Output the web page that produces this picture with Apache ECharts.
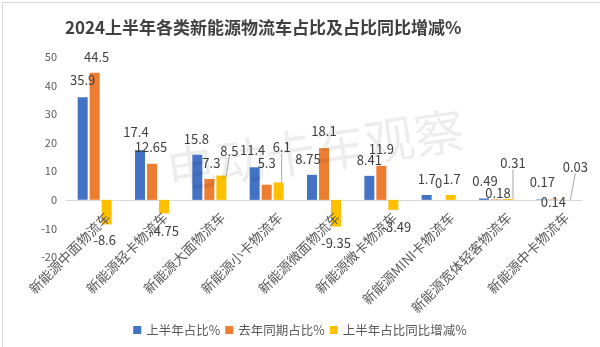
<!DOCTYPE html>
<html><head><meta charset="utf-8">
<script src="https://cdn.jsdelivr.net/npm/echarts@6/dist/echarts.min.js"></script>
<style>html,body{margin:0;padding:0;background:#fff}#c{width:600px;height:347px}</style>
</head><body><div id="c"></div>
<script>
const titleText = '2024上半年各类新能源物流车占比及占比同比增减%';
const categories = ['新能源中面物流车','新能源轻卡物流车','新能源大面物流车','新能源小卡物流车','新能源微面物流车','新能源微卡物流车','新能源MINI卡物流车','新能源宽体轻客物流车','新能源中卡物流车'];
const seriesNames = ['上半年占比%','去年同期占比%','上半年占比同比增减%'];
const share2024 = [35.9, 17.4, 15.8, 11.4, 8.75, 8.41, 1.7, 0.49, 0.17];
const share2023 = [44.5, 12.65, 7.3, 5.3, 18.1, 11.9, 0, 0.18, 0.14];
const shareChange = [-8.6, -4.75, 8.5, 6.1, -9.35, -3.49, 1.7, 0.31, 0.03];
const yTicks = [-20, -10, 0, 10, 20, 30, 40, 50];
const watermark = '电动卡车观察';

// label placement (style): [dx, dy, leaderLine]
const labelPlace = [
  [[0,-17],[-4,-18],[-1,-16],[-2,-17],[-4,-16],[0,-16],[0,-16],[1,-17],[1,-17]],
  [[2,-16],[-1,-17],[2,-16],[0,-22],[0,-17],[0,-17],[0,-17],[2,-6],[0,3]],
  [[-2,16],[0,18],[8,-25,1],[3,-35,1],[0,16],[3,17],[1,-16],[5,-36,1],[10,-33,1]]
];
const colors = ['#4472c4','#ed7d31','#ffc000'];
const values = [share2024, share2023, shareChange];

const chart = echarts.init(document.getElementById('c'));
const series = values.map((vals, si) => ({
  name: seriesNames[si],
  type: 'bar',
  data: vals.map((v, di) => ({
    value: v,
    labelLine: { show: !!labelPlace[si][di][2], lineStyle: { color: '#a6a6a6', width: 1 } }
  })),
  barWidth: 10,
  barGap: '20%',
  itemStyle: { color: colors[si] },
  label: { show: true, formatter: p => String(p.value), color: '#404040', fontSize: 13, fontFamily: 'Noto Sans CJK SC' },
  labelLayout: function (p) {
    const r = p.rect;
    const off = labelPlace[si][p.dataIndex];
    const v = vals[p.dataIndex];
    const cx = r.x + r.width / 2;
    const endY = v >= 0 ? r.y : r.y + r.height;
    return { x: cx + off[0], y: endY + off[1], align: 'center', verticalAlign: 'middle' };
  }
}));

chart.setOption({
  backgroundColor: '#fff',
  animation: false,
  title: {
    text: titleText, left: 60, top: 14,
    textStyle: { fontSize: 17, fontWeight: 'bold', color: '#404040', fontFamily: 'Noto Sans CJK SC' }
  },
  legend: {
    data: seriesNames, left: 'center', top: 318,
    itemWidth: 8, itemHeight: 8, itemGap: 5, icon: 'rect',
    textStyle: { fontSize: 12.5, lineHeight: 14, color: '#595959', fontFamily: 'Noto Sans CJK SC' }
  },
  grid: { left: 66, right: 18, top: 57, bottom: 90, containLabel: false, outerBoundsMode: 'none' },
  xAxis: {
    type: 'category', data: categories,
    axisLine: { lineStyle: { color: '#d9d9d9' } },
    axisTick: { show: false },
    axisLabel: { show: false }
  },
  yAxis: {
    type: 'value', min: yTicks[0], max: yTicks[yTicks.length - 1], interval: 10,
    splitLine: { show: false },
    axisLine: { show: false }, axisTick: { show: false },
    axisLabel: { color: '#595959', fontSize: 11, fontFamily: 'Noto Sans CJK SC', margin: 9 }
  },
  series: series
});

// category labels, rotated 45°, anchored at each category's pixel position on the zero line
const catLabels = categories.map((name, i) => {
  const pt = chart.convertToPixel({ xAxisIndex: 0, yAxisIndex: 0 }, [i, 0]);
  return {
    type: 'text', x: pt[0] + 13, y: pt[1] + 15, rotation: Math.PI / 4, z: 50,
    style: { text: name, fontSize: 13.5, fontFamily: 'Noto Sans CJK SC', fill: '#595959', align: 'right', verticalAlign: 'middle' }
  };
});
chart.setOption({
  graphic: [
    { type: 'rect', left: 0, top: 0, shape: { width: 599, height: 346 }, style: { fill: 'none', stroke: '#d9d9d9', lineWidth: 1 }, z: 100 },
    { type: 'text', x: 315, y: 150, rotation: 0.14, z: 100,
      style: { text: watermark, fontSize: 50, fontFamily: 'Noto Sans CJK SC', fill: 'rgba(0,0,0,0.07)', align: 'center', verticalAlign: 'middle' } }
  ].concat(catLabels)
});
</script></body></html>
